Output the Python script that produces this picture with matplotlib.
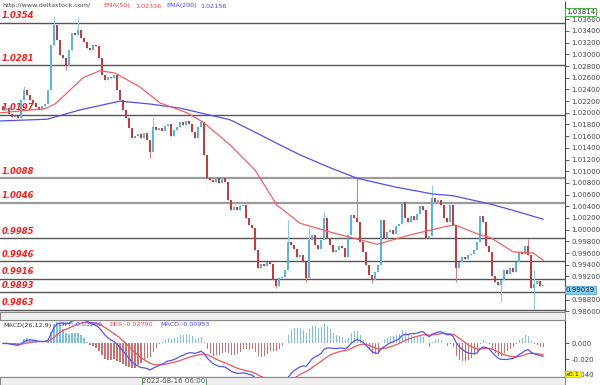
"""
EUR/USD style candlestick chart with support/resistance levels, EMA(50)/EMA(200)
and a MACD(26,12,9) sub-panel underneath.
"""

import matplotlib

matplotlib.use("Agg")
import matplotlib.pyplot as plt
import matplotlib.transforms as mtransforms
from matplotlib.patches import Rectangle
from matplotlib.ticker import FormatStrFormatter, FuncFormatter
import numpy as np
import pandas as pd


# closing prices, one per bar (left to right)
closes = [
    1.0205, 1.0208, 1.0198, 1.0193, 1.0195, 1.0191, 1.0222, 1.0239, 1.0231, 1.0222,
    1.0217, 1.0210, 1.0205, 1.0212, 1.0215, 1.0239, 1.0316, 1.0350, 1.0325, 1.0299,
    1.0294, 1.0280, 1.0307, 1.0336, 1.0333, 1.0342, 1.0328, 1.0321, 1.0311, 1.0307,
    1.0316, 1.0314, 1.0294, 1.0265, 1.0256, 1.0261, 1.0259, 1.0265, 1.0239, 1.0222,
    1.0205, 1.0191, 1.0174, 1.0157, 1.0160, 1.0164, 1.0157, 1.0165, 1.0153, 1.0133,
    1.0176, 1.0171, 1.0174, 1.0169, 1.0177, 1.0181, 1.0160, 1.0171, 1.0176, 1.0184,
    1.0179, 1.0186, 1.0181, 1.0167, 1.0157, 1.0176, 1.0184, 1.0128, 1.0089, 1.0085,
    1.0082, 1.0089, 1.0080, 1.0089, 1.0082, 1.0051, 1.0034, 1.0039, 1.0034, 1.0041,
    1.0042, 1.0020, 1.0008, 1.0003, 0.9965, 0.9935, 0.9941, 0.9938, 0.9945, 0.9941,
    0.9914, 0.9904, 0.9917, 0.9919, 0.9931, 0.9979, 0.9974, 0.9967, 0.9953, 0.9956,
    0.9945, 0.9917, 0.9983, 0.9991, 0.9974, 0.9967, 0.9983, 1.0020, 0.9985, 0.9974,
    0.9962, 0.9965, 0.9972, 0.9969, 0.9953, 0.9991, 1.0025, 1.0020, 1.0013, 0.9979,
    0.9962, 0.9940, 0.9922, 0.9914, 0.9928, 0.9940, 1.0017, 0.9986, 0.9996, 1.0000,
    0.9993, 1.0006, 1.0010, 1.0048, 1.0020, 1.0013, 1.0024, 1.0017, 1.0027, 1.0041,
    1.0034, 0.9986, 0.9989, 1.0055, 1.0048, 1.0051, 1.0042, 1.0020, 1.0013, 1.0042,
    1.0008, 0.9935, 0.9945, 0.9953, 0.9949, 0.9956, 0.9959, 0.9965, 0.9979, 1.0024,
    1.0013, 0.9972, 0.9962, 0.9921, 0.9911, 0.9906, 0.9914, 0.9931, 0.9924, 0.9935,
    0.9928, 0.9945, 0.9962, 0.9959, 0.9972, 0.9956, 0.9901, 0.9907, 0.9912, 0.9904,
    0.9904,
]
first_open = 1.0212

# long wicks that stick out beyond the body (bar index -> price)
wick_highs = {7: 1.0245, 17: 1.0366, 25: 1.0364, 50: 1.0193, 95: 1.0017, 102: 1.0005,
              107: 1.0030, 118: 1.0088, 143: 1.0077, 175: 0.9984, 177: 0.9931}
wick_lows = {21: 1.0273, 49: 1.0123, 91: 0.9900, 101: 0.9910, 123: 0.9909,
             151: 0.9910, 166: 0.9876, 177: 0.9865}

# moving averages (bar index, price)
ema50_idx = [-1, 14, 17.3, 21.3, 26.7, 32.3, 37.3, 45.7, 52.3, 61.3, 66.7, 75.7, 84,
             91.3, 99, 109, 115.7, 124.7, 135.7, 148, 150.7, 159, 162.3, 170, 176.7, 180]
ema50_val = [1.0200, 1.0207, 1.0215, 1.0234, 1.0260, 1.0272, 1.0268, 1.0244, 1.0217,
             1.0200, 1.0184, 1.0145, 1.0102, 1.0042, 1.0011, 0.9996, 0.9987, 0.9975,
             0.9991, 1.0006, 1.0008, 0.9991, 0.9987, 0.9962, 0.9960, 0.9948]
ema200_idx = [-1, 14.7, 25.7, 39, 49, 59, 75.7, 84.7, 92.3, 99, 109, 118, 130.7, 143.3,
              150, 162.3, 170.7, 180]
ema200_val = [1.0186, 1.0189, 1.0205, 1.0220, 1.0215, 1.0208, 1.0188, 1.0165, 1.0145,
              1.0128, 1.0106, 1.0088, 1.0073, 1.0061, 1.0058, 1.0044, 1.0032, 1.0018]

levels = [1.0354, 1.0281, 1.0197, 1.0088, 1.0046, 0.9985, 0.9946, 0.9916, 0.9893, 0.9863]
light_levels = [1.0088, 1.0046]

price_ticks = np.round(np.arange(0.986, 1.0361, 0.002), 3)
hidden_tick = 0.990  # sits under the last-price box
macd_ticks = [0.0, -0.02, -0.04]

UP = "#5ab3e0"
DOWN = "#bf3f3f"
W, H = 600, 385


def fig_rect(x0, y0, x1, y1):
    # pixel box (top-left origin) -> figure fraction [left, bottom, width, height]
    return [x0 / W, 1 - y1 / H, (x1 - x0) / W, (y1 - y0) / H]


def price_label(v, pos):
    if abs(v - hidden_tick) < 1e-6:
        return ""
    return "{:.5f}".format(v)


def draw_candles(ax, closes):
    c = np.asarray(closes, dtype=float)
    o = np.concatenate([[first_open], c[:-1]])
    x = np.arange(len(c))
    hi = np.maximum(o, c)
    lo = np.minimum(o, c)
    for i, v in wick_highs.items():
        hi[i] = v
    for i, v in wick_lows.items():
        lo[i] = v
    up = c >= o
    cols = np.where(up, UP, DOWN)
    wick_cols = np.where(up, "#8ccbea", "#d98080")
    ax.vlines(x, lo, hi, colors=wick_cols, lw=0.8, zorder=3)
    body = np.maximum(np.abs(c - o), 0.00006)
    ax.bar(x, body, bottom=np.minimum(o, c), width=0.62, color=cols, lw=0, zorder=4)


fig = plt.figure(figsize=(6, 3.85), dpi=100)
fig.patch.set_facecolor("white")

ax = fig.add_axes(fig_rect(0, 2, 565, 312))
mx = fig.add_axes(fig_rect(0, 320, 565, 377))

# grey separator bands
fig.patches.append(Rectangle((0, 1 - 320 / H), 565 / W, 8 / H, transform=fig.transFigure,
                             fc="#efefef", ec="#8a8a8a", lw=0.8, zorder=0))
fig.patches.append(Rectangle((0, 0), 565 / W, 8 / H, transform=fig.transFigure,
                             fc="#efefef", ec="#8a8a8a", lw=0.8, zorder=0))

# --- main price panel
blend = mtransforms.blended_transform_factory(ax.transAxes, ax.transData)
for lv in levels:
    light = lv in light_levels
    ax.axhline(lv, color="#9b9b9b" if light else "#555555", lw=1.6 if light else 1.0, zorder=2)
    ax.annotate("{:.4f}".format(lv), xy=(0, lv), xycoords=blend, xytext=(1.5, 1.8),
                textcoords="offset points", ha="left", va="bottom", fontsize=6,
                color="#ff1a1a", fontweight="bold", fontstyle="italic", zorder=1)

draw_candles(ax, closes)
ax.plot(ema200_idx, ema200_val, color="#5050f0", lw=0.9, zorder=5)
ax.plot(ema50_idx, ema50_val, color="#f26060", lw=0.9, zorder=5)

ax.set_xlim(-1, 187.3)
ax.set_ylim(0.98591, 1.03896)
ax.yaxis.tick_right()
ax.set_yticks(price_ticks)
ax.yaxis.set_major_formatter(FuncFormatter(price_label))
ax.tick_params(axis="y", labelsize=5, colors="#444444", length=3, width=0.6, pad=1.5)
ax.set_xticks([])
for side in ("left", "top"):
    ax.spines[side].set_visible(False)
ax.spines["right"].set_color("#444444")
ax.spines["bottom"].set_color("#444444")

# --- MACD panel
s = pd.Series(closes)
diff = (s.ewm(span=12, adjust=False).mean() - s.ewm(span=26, adjust=False).mean()) * 10
dea = diff.ewm(span=9, adjust=False).mean()
hist = 2 * (diff - dea)
xm = np.arange(len(closes))
mx.bar(xm, hist, width=0.35, color=np.where(hist >= 0, "#7cc0e4", "#c87272"), lw=0, zorder=2)
mx.plot(xm, dea, color="#f25555", lw=0.9, zorder=3)
mx.plot(xm, diff, color="#5555f5", lw=0.9, zorder=4)
mx.set_xlim(-1, 187.3)
mx.set_ylim(-0.0432, 0.0303)
mx.yaxis.tick_right()
mx.set_yticks(macd_ticks)
mx.yaxis.set_major_formatter(FormatStrFormatter("%.3f"))
mx.tick_params(axis="y", labelsize=5, colors="#444444", length=3, width=0.6, pad=1.5)
mx.set_xticks([])
mx.spines["left"].set_visible(False)
for side in ("right", "top", "bottom"):
    mx.spines[side].set_color("#444444")

# --- header texts
ty = 1 - 6 / H
fig.text(2 / W, ty, "http://www.deltastock.com/", fontsize=4.6, color="#444444", va="center")
fig.text(103 / W, ty, "EMA(50)", fontsize=4.6, color="#ff3b3b", va="center")
fig.text(135 / W, ty, "1.02336", fontsize=4.6, color="#ff3b3b", va="center")
fig.text(166 / W, ty, "EMA(200)", fontsize=4.6, color="#4545ff", va="center")
fig.text(200 / W, ty, "1.02156", fontsize=4.6, color="#4545ff", va="center")

my = 1 - 325 / H
fig.text(3 / W, my, "MACD(26,12,9)", fontsize=4.6, color="#333333", va="center")
fig.text(58 / W, my, "DIFF:-0.03266", fontsize=4.6, color="#4545ff", va="center")
fig.text(109 / W, my, "DEA:-0.02790", fontsize=4.6, color="#ff3b3b", va="center")
fig.text(160 / W, my, "MACD:-0.00953", fontsize=4.6, color="#4545ff", va="center")

# price boxes on the axis
fig.text(566 / W, 1 - 12 / H, "1.03814", fontsize=5, color="#333333", va="center",
         bbox=dict(fc="white", ec="#4caf50", lw=0.8, pad=0.8))
fig.text(566 / W, 1 - 290 / H, "0.99039", fontsize=5, color="#222222", va="center",
         bbox=dict(fc="#86cdef", ec="#5aa8d0", lw=0.6, pad=0.8))
fig.text(566 / W, 1 - 374 / H, "x0.1", fontsize=4.6, color="#222222", va="center",
         bbox=dict(fc="#ffff00", ec="#c8c800", lw=0.5, pad=0.5))
fig.text(174 / W, 1 - 381 / H, "2022-08-16 06:00", fontsize=5, color="#555555",
         ha="center", va="center", bbox=dict(fc="#f4f4f4", ec="#66aa66", lw=0.8, pad=0.6))

fig.savefig("out.png", dpi=100)
